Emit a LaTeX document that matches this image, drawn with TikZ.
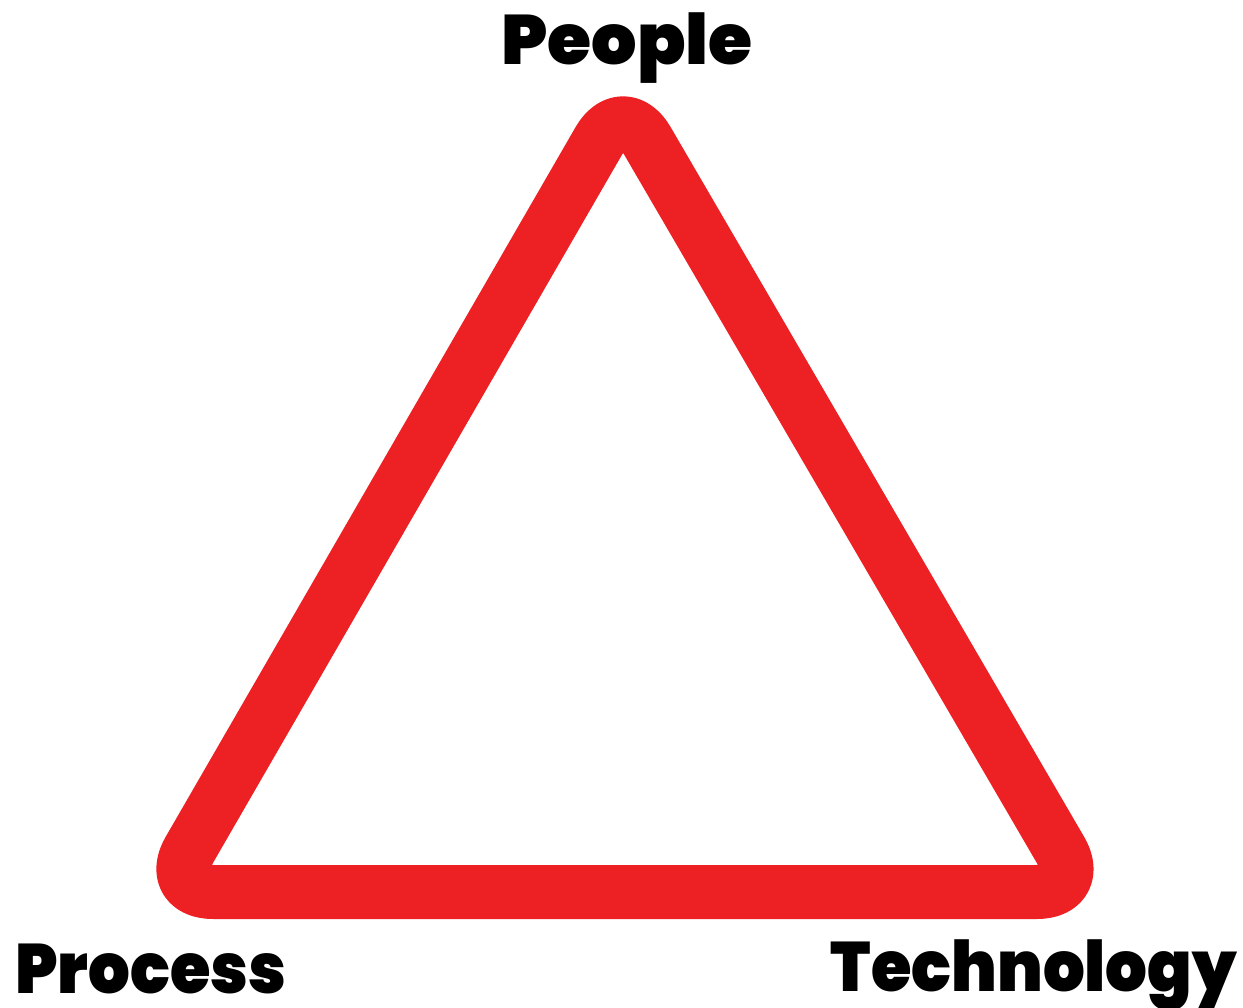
\documentclass[tikz,border=0pt]{standalone}
\usepackage{fontspec}
\newfontfamily\heavy{Poppins Black}
\definecolor{trired}{RGB}{237,32,36}
\begin{document}
\begin{tikzpicture}[x=1pt,y=-1pt,
  lbl/.style={inner sep=0pt,font=\heavy\fontsize{70}{70}\selectfont,text=black}]
\useasboundingbox[fill=white] (0,0) rectangle (1243,1008);
\coordinate (top) at (623,99);
\coordinate (left) at (165,892);
\coordinate (right) at (1085,892);
\draw[trired,line width=54pt,rounded corners=48pt,line join=round]
  (left) -- (top) -- (right) -- cycle;
\node[lbl,anchor=base,xscale=1.02] (people) at (627,65) {People};
\node[lbl,anchor=base west,xscale=0.937] (process) at (15,993) {Process};
\node[lbl,anchor=base east,xscale=0.938] (tech) at (1237,991) {Technology};
\end{tikzpicture}
\end{document}
